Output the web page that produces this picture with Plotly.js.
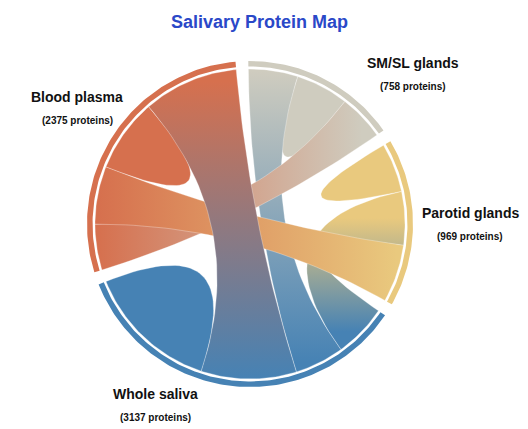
<!DOCTYPE html>
<html><head><meta charset="utf-8">
<script src="https://cdn.plot.ly/plotly-3.0.1.min.js"></script>
<style>html,body{margin:0;padding:0;background:#fff}</style>
</head><body><div id="chart" style="width:528px;height:429px"></div>
<script>
// ---- data ----
const groupNames = ['SM/SL glands', 'Parotid glands', 'Whole saliva', 'Blood plasma'];
const proteinCounts = [758, 969, 3137, 2375];
const groupColors = ['#cfccbf', '#e9c97e', '#4682b4', '#d6704e'];
// estimated flow matrix rows (columns: SM/SL, Parotid, Whole saliva, Blood plasma)
const flowSMSL    = [197,   0, 184, 171];
const flowParotid = [  0, 183, 199, 215];
const flowWhole   = [184, 199, 496, 355];
const flowPlasma  = [171, 215, 355, 274];
// clockwise order of ribbons on each arc
const orderSMSL    = [2, 0, 3];
const orderParotid = [1, 2, 3];
const orderWhole   = [1, 0, 3, 2];
const orderPlasma  = [0, 1, 3, 2];

const matrix = [flowSMSL, flowParotid, flowWhole, flowPlasma];
const orders = [orderSMSL, orderParotid, orderWhole, orderPlasma];

// ---- geometry (layout) ----
const padDeg = 4.5, startDeg = -0.6;
const rChord = 0.951, rIn = 0.966, rOut = 1.0;
const n = groupNames.length;
let total = 0;
matrix.forEach(r => r.forEach(v => total += v));
const k = (360 - n * padDeg) / total;
const sub = matrix.map(() => new Array(n).fill(null));
const groupArc = [];
let cur = startDeg;
for (let i = 0; i < n; i++) {
  const g0 = cur;
  orders[i].forEach(j => {
    const w = matrix[i][j] * k;
    sub[i][j] = [cur, cur + w];
    cur += w;
  });
  groupArc.push([g0, cur]);
  cur += padDeg;
}
const rad = d => d * Math.PI / 180;
const pt = (deg, r) => [r * Math.sin(rad(deg)), r * Math.cos(rad(deg))];
function arcPts(a0, a1, r, xs, ys) {
  const m = Math.max(2, Math.ceil(Math.abs(a1 - a0) / 1));
  for (let s = 0; s <= m; s++) {
    const p = pt(a0 + (a1 - a0) * s / m, r);
    xs.push(p[0]); ys.push(p[1]);
  }
}
function bezPts(a, b, r, xs, ys) {
  const p0 = pt(a, r), p2 = pt(b, r);
  const m = 40;
  for (let s = 1; s < m; s++) {
    const t = s / m;
    xs.push((1 - t) * (1 - t) * p0[0] + t * t * p2[0]);
    ys.push((1 - t) * (1 - t) * p0[1] + t * t * p2[1]);
  }
}
const traces = [];
// ring segments
for (let i = 0; i < n; i++) {
  const xs = [], ys = [];
  arcPts(groupArc[i][0], groupArc[i][1], rOut, xs, ys);
  arcPts(groupArc[i][1], groupArc[i][0], rIn, xs, ys);
  xs.push(xs[0]); ys.push(ys[0]);
  traces.push({x: xs, y: ys, type: 'scatter', mode: 'lines', fill: 'toself',
    fillcolor: groupColors[i], line: {width: 0, color: groupColors[i]}, hoverinfo: 'skip'});
}
// self ribbons
for (let i = 0; i < n; i++) {
  if (!matrix[i][i]) continue;
  const a = sub[i][i], xs = [], ys = [];
  arcPts(a[0], a[1], rChord, xs, ys);
  bezPts(a[1], a[0], rChord, xs, ys);
  xs.push(xs[0]); ys.push(ys[0]);
  traces.push({x: xs, y: ys, type: 'scatter', mode: 'lines', fill: 'toself',
    fillcolor: groupColors[i], line: {width: 0.5, color: 'rgba(255,255,255,0.6)'}, hoverinfo: 'skip'});
}
// pair ribbons (draw order)
const pairs = [[0, 2], [1, 2], [0, 3], [1, 3], [3, 2]];
pairs.forEach(([i, j]) => {
  if (!matrix[i][j]) return;
  const a = sub[i][j], b = sub[j][i], xs = [], ys = [];
  arcPts(a[0], a[1], rChord, xs, ys);
  bezPts(a[1], b[0], rChord, xs, ys);
  arcPts(b[0], b[1], rChord, xs, ys);
  bezPts(b[1], a[0], rChord, xs, ys);
  xs.push(xs[0]); ys.push(ys[0]);
  const mi = pt((a[0] + a[1]) / 2, rChord), mj = pt((b[0] + b[1]) / 2, rChord);
  const horiz = Math.abs(mi[0] - mj[0]) > Math.abs(mi[1] - mj[1]);
  const ax = horiz ? 0 : 1;
  const lowI = mi[ax] < mj[ax];
  const lo = Math.min(mi[ax], mj[ax]), hi = Math.max(mi[ax], mj[ax]);
  const cLo = lowI ? groupColors[i] : groupColors[j];
  const cHi = lowI ? groupColors[j] : groupColors[i];
  traces.push({x: xs, y: ys, type: 'scatter', mode: 'lines', fill: 'toself',
    fillcolor: groupColors[i],
    fillgradient: {type: horiz ? 'horizontal' : 'vertical', colorscale: [[0, cLo], [1, cHi]], start: lo, stop: hi},
    line: {width: 0.5, color: 'rgba(255,255,255,0.6)'}, hoverinfo: 'skip'});
});

// labels
const labelPos = [[413, 63], [470, 213], [155, 394], [77, 97]];
const font = 'Liberation Sans, Arial, sans-serif';
const annotations = [];
for (let i = 0; i < n; i++) {
  annotations.push({xref: 'paper', yref: 'paper', x: labelPos[i][0] / 528, y: 1 - labelPos[i][1] / 429,
    xanchor: 'center', yanchor: 'middle', showarrow: false, text: groupNames[i],
    font: {family: font, size: 14, color: '#111', weight: 'bold'}});
  annotations.push({xref: 'paper', yref: 'paper', x: labelPos[i][0] / 528, y: 1 - (labelPos[i][1] + 23.5) / 429,
    xanchor: 'center', yanchor: 'middle', showarrow: false, text: '(' + proteinCounts[i] + ' proteins)',
    font: {family: font, size: 10, color: '#111', weight: 'bold'}});
}

const R = 163, cx = 250, cy = 224;
const layout = {
  width: 528, height: 429,
  margin: {l: 0, r: 0, t: 0, b: 0},
  paper_bgcolor: '#fff', plot_bgcolor: '#fff',
  showlegend: false,
  title: {text: 'Salivary Protein Map', x: 259.5 / 528, xanchor: 'center', y: 1 - 22 / 429, yanchor: 'middle',
    font: {family: font, size: 18, color: '#2a48c8', weight: 'bold'}},
  xaxis: {range: [-cx / R, (528 - cx) / R], visible: false, fixedrange: true},
  yaxis: {range: [-(429 - cy) / R, cy / R], visible: false, fixedrange: true},
  annotations: annotations
};
Plotly.newPlot('chart', traces, layout, {displayModeBar: false, staticPlot: true});
</script></body></html>
